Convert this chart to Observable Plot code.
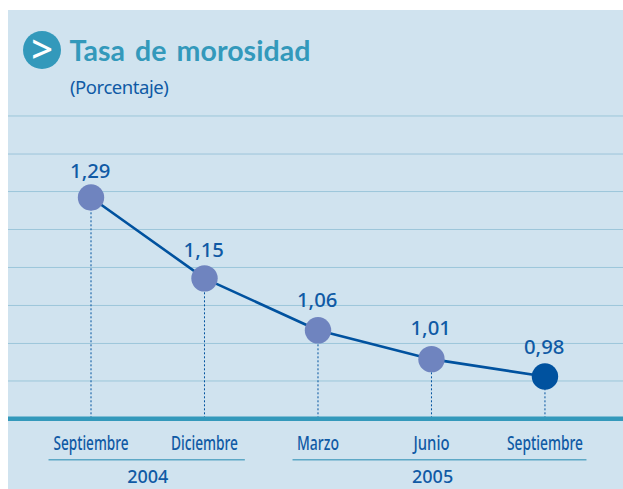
<!DOCTYPE html>
<html><head><meta charset="utf-8">
<script src="https://cdn.jsdelivr.net/npm/d3@7"></script>
<script src="https://cdn.jsdelivr.net/npm/@observablehq/plot@0.6"></script>
<style>
html,body{margin:0;padding:0;background:#fff;width:623px;height:489px;overflow:hidden}
#panel{position:absolute;left:8px;top:10px;width:615px;height:479px;background:#d0e3ef;overflow:hidden}
#panel svg{position:absolute;left:0;top:0;background:transparent;display:block}
#bullet{position:absolute;left:15px;top:21px;width:38px;height:38px;border-radius:50%;background:#3399bb;color:#fff;font:500 38px/35px "Noto Sans",sans-serif;text-align:center;z-index:2}
#title{position:absolute;left:61.5px;top:22px;color:#3399bb;font:700 28.5px/36px Lato,sans-serif;letter-spacing:0.05px;word-spacing:3px;white-space:nowrap;z-index:2}
#sub{position:absolute;left:62px;top:65px;color:#0f5aa5;font:400 18.5px/24px "Noto Sans",sans-serif;letter-spacing:-0.45px;white-space:nowrap;z-index:2}
</style></head><body>
<div id="panel">
<div id="bullet">&gt;</div>
<div id="title">Tasa de morosidad</div>
<div id="sub">(Porcentaje)</div>
</div>
<script>
const months = ["Septiembre","Diciembre","Marzo","Junio","Septiembre"];
const monthWidths = [75,67,42,36,76];
const order = [0,1,2,3,4];
const values = [1.29,1.15,1.06,1.01,0.98];
const labels = ["1,29","1,15","1,06","1,01","0,98"];
const labelLift = [-26,-28,-30,-31,-29];
const gridValues = [0.9722,1.0372,1.1030,1.1688,1.2346,1.3003,1.3653,1.4312];
const years = ["2004","2005"];
const yearPositions = [0.5,3.01];
const yearStart = [-0.37,1.78];
const yearEnd = [1.36,4.37];
const baseValue = 0.9067;
const topValue = 1.6139;
const points = order.map(i=>({i,v:values[i],label:labels[i]}));
const blue="#00529f", textBlue="#0f5aa5", light="#6f84bf", teal="#3399bb";
const font="'Noto Sans', sans-serif";
const chart = Plot.plot({
  width:615,height:479,marginLeft:0,marginRight:0,marginTop:0,marginBottom:70.7,
  style:{background:"transparent",overflow:"visible"},
  x:{domain:[-0.727,4.692],axis:null},
  y:{domain:[baseValue,topValue],axis:null},
  marks:[
    Plot.ruleY(gridValues,{stroke:"#9cc6da",strokeWidth:1}),
    Plot.ruleX(points,{x:"i",y1:baseValue,y2:"v",stroke:blue,strokeWidth:1,strokeDasharray:"2,2"}),
    Plot.ruleY([baseValue],{stroke:teal,strokeWidth:4.5}),
    Plot.line(points,{x:"i",y:"v",stroke:blue,strokeWidth:2.6}),
    Plot.dot(points.slice(0,4),{x:"i",y:"v",r:13.2,fill:light,stroke:"none"}),
    Plot.dot(points.slice(4),{x:"i",y:"v",r:13.2,fill:blue,stroke:"none"}),
    ...points.map((p,k)=>Plot.text([p],{x:"i",y:"v",text:"label",dx:-0.8,dy:labelLift[k],fill:textBlue,fontSize:20.3,fontWeight:500,fontFamily:font})),
    Plot.axisX(order,{anchor:"bottom",tickSize:0,tickPadding:17,label:null,tickFormat:i=>months[i],fill:textBlue,fontSize:20,fontWeight:500,fontFamily:font,className:"months"}),
    Plot.ruleY(d3.range(2),{x1:i=>yearStart[i],x2:i=>yearEnd[i],y:()=>baseValue,dy:41,stroke:"#5da8c6",strokeWidth:1.5}),
    Plot.text(years,{x:(d,i)=>yearPositions[i],y:()=>baseValue,dy:58,text:d=>d,fill:textBlue,fontSize:18,fontWeight:500,fontFamily:font})
  ]
});
document.getElementById("panel").appendChild(chart);
// the reference uses a condensed face: squeeze the month labels to their measured widths
chart.querySelectorAll(".months text, g[aria-label='x-axis tick label'] text").forEach((t,i)=>{
  t.setAttribute("textLength",monthWidths[i]);
  t.setAttribute("lengthAdjust","spacingAndGlyphs");
});
</script>
</body></html>
